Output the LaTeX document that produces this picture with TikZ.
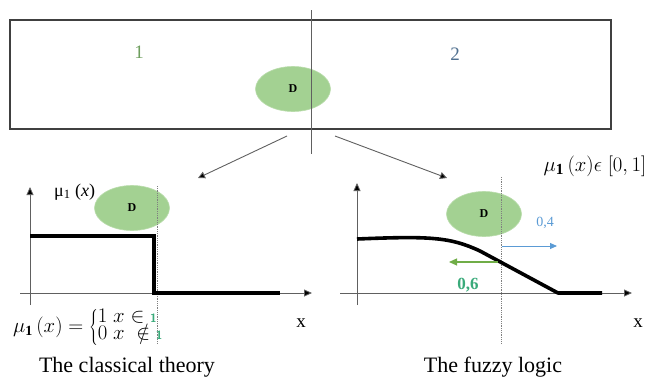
\documentclass[tikz,border=0pt]{standalone}
\usepackage{fontspec}
\setmainfont{Liberation Serif}
\usetikzlibrary{arrows.meta,shapes.geometric}
\definecolor{ellg}{HTML}{A3D192}
\definecolor{ellgd}{HTML}{B9DCAB}
\definecolor{lblone}{HTML}{6E9E5E}
\definecolor{lbltwo}{HTML}{4F6F8F}
\definecolor{frm}{HTML}{404040}
\definecolor{lng}{HTML}{606060}
\definecolor{bluea}{HTML}{5B9BD5}
\definecolor{greena}{HTML}{70AD47}
\definecolor{greent}{HTML}{3AAA7A}
\newcommand{\greenone}{\textcolor{greent}{\textsf{\bfseries\fontsize{12}{12}\selectfont 1}}}
\tikzset{
  ellD/.style={ellipse, fill=ellg, draw=ellgd, line width=0.6pt, minimum width=75pt, minimum height=45pt, inner sep=0pt, font=\fontsize{12}{14}\selectfont\bfseries},
  connarrow/.style={draw=lng, line width=0.9pt, -{Triangle[length=7pt,width=7pt,fill=black]}},
  axis/.style={draw=lng, line width=0.8pt, -{Triangle[length=8pt,width=7pt,fill=black]}},
  thickc/.style={line width=3.6pt, black},
  dotv/.style={draw=gray, line width=0.8pt, densely dotted},
  caption/.style={font=\fontsize{22}{24}\selectfont},
}
\begin{document}
\begin{tikzpicture}[x=1pt,y=-1pt]
\useasboundingbox (0,0) rectangle (651,378);
% top frame
\draw[frm, line width=1.4pt] (10,20) rectangle (611,129);
\node[font=\fontsize{19}{21}\selectfont, text=lblone] (one) at (139,52) {1};
\node[font=\fontsize{19}{21}\selectfont, text=lbltwo] (two) at (455,54) {2};
\node[ellD] (dtop) at (293,89) {D};
\coordinate (vt) at (311,10);
\coordinate (vb) at (311,154);
\draw[lng, line width=0.9pt] (vt) -- (vb);
% connectors
\coordinate (la) at (287,136);
\coordinate (lb) at (198,178);
\coordinate (ra) at (335,136);
\coordinate (rb) at (447,178);
\draw[connarrow] (la) -- (lb);
\draw[connarrow] (ra) -- (rb);
% ---------- left graph
\coordinate (ly0) at (30,305);
\coordinate (ly1) at (30,187);
\coordinate (lx0) at (20,293);
\coordinate (lx1) at (312,293);
\draw[axis] (ly0) -- (ly1);
\draw[axis] (lx0) -- (lx1);
\node[ellD] (dleft) at (132,208) {D};
\draw[dotv] (157,186) -- (157,344);
\draw[thickc] (30,236) -- (154,236) -- (154,293) -- (280,293);
\node[font=\fontsize{18}{20}\selectfont, anchor=west, inner sep=0pt] (mul) at (54,192) {μ\textsubscript{1} (\textit{x})};
\node[font=\fontsize{19}{21}\selectfont] (xl) at (301,323) {x};
\node[font=\fontsize{20}{22}\selectfont, anchor=west, inner sep=0pt] (form) at (13,327)
  {$\mu_{\mathbf 1}\,(x) = \left\{\begin{array}{@{}l@{}}1\; x \in \greenone\\[-5pt] 0\; x\; \notin \greenone\end{array}\right.$};
\node[caption] (capl) at (127,367) {The classical theory};
% ---------- right graph
\coordinate (ry0) at (357,305);
\coordinate (ry1) at (357,183);
\coordinate (rx0) at (340,293);
\coordinate (rx1) at (632,293);
\draw[axis] (ry0) -- (ry1);
\draw[axis] (rx0) -- (rx1);
\node[ellD] (dright) at (484,214) {D};
\draw[dotv] (501,177) -- (501,344);
\draw[thickc, line join=round] (357,239) .. controls (430,236) and (450,237) .. (480,251) -- (558,293) -- (602,293);
\coordinate (bs) at (502,246);
\coordinate (be) at (557,246);
\draw[bluea, line width=0.9pt, -{Triangle[length=7pt,width=6pt]}] (bs) -- (be);
\node[font=\fontsize{14}{16}\selectfont, text=bluea] (v04) at (545,223) {0,4};
\coordinate (gs) at (498,262);
\coordinate (ge) at (449,262);
\draw[greena, line width=1.2pt, -{Triangle[length=8pt,width=7pt]}] (gs) -- (ge);
\node[font=\fontsize{17}{19}\selectfont\bfseries, text=greent] (v06) at (468,285) {0,6};
\node[font=\fontsize{22}{24}\selectfont] (mur) at (595,166) {$\mu_{\mathbf 1}\,(x)\epsilon\;[0,1]$};
\node[font=\fontsize{19}{21}\selectfont] (xr) at (638,323) {x};
\node[caption] (capr) at (493,367) {The fuzzy logic};
\end{tikzpicture}
\end{document}
